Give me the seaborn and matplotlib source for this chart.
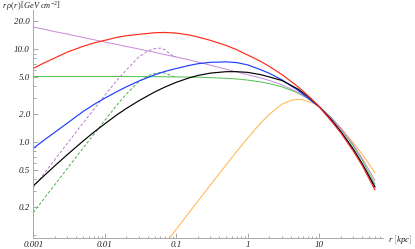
import matplotlib
matplotlib.use("Agg")
import matplotlib.pyplot as plt
from matplotlib.ticker import NullFormatter
import seaborn as sns

# radius grid (kpc) shared by the solid profiles
r = [0.001, 0.0015, 0.002, 0.003, 0.005, 0.007, 0.01, 0.015, 0.02, 0.03,
     0.05, 0.07, 0.1, 0.15, 0.2, 0.3, 0.5, 0.7, 1, 1.5,
     2, 3, 5, 7, 10, 15, 20, 30, 40, 60]

red = [6.25, 7.3, 8.08, 9.35, 10.8, 11.7, 12.5, 13.5, 14.0, 14.5,
       15.1, 15.2, 14.95, 14.3, 13.6, 12.5, 11.0, 9.9, 8.67, 7.45,
       6.55, 5.35, 3.98, 3.16, 2.41, 1.66, 1.26, 0.80, 0.56, 0.307]
blue = [0.86, 1.09, 1.28, 1.61, 2.15, 2.54, 2.98, 3.53, 3.95, 4.56,
        5.32, 5.8, 6.22, 6.7, 7.0, 7.25, 7.33, 7.2, 6.8, 6.05,
        5.52, 4.70, 3.64, 2.97, 2.41, 1.72, 1.31, 0.84, 0.58, 0.33]
black = [0.34, 0.455, 0.558, 0.738, 1.034, 1.28, 1.58, 1.99, 2.31, 2.80,
         3.48, 3.94, 4.42, 4.92, 5.23, 5.55, 5.75, 5.75, 5.65, 5.35,
         5.05, 4.62, 3.75, 3.10, 2.41, 1.71, 1.30, 0.84, 0.585, 0.33]
green = [5.1, 5.1, 5.1, 5.1, 5.1, 5.1, 5.1, 5.1, 5.09, 5.09,
         5.08, 5.07, 5.05, 5.03, 5.01, 4.96, 4.88, 4.8, 4.67, 4.47,
         4.28, 3.95, 3.40, 2.95, 2.41, 1.82, 1.40, 0.91, 0.64, 0.355]
purple = [17.4, 16.3, 15.5, 14.6, 13.4, 12.7, 12.0, 11.26, 10.75, 10.08,
          9.28, 8.76, 8.26, 7.72, 7.3, 6.75, 6.1, 5.72, 5.33, 4.93,
          4.63, 4.15, 3.45, 2.95, 2.41, 1.8, 1.40, 0.94, 0.67, 0.39]

# cored (dashed) versions
r_core = [0.001, 0.002, 0.005, 0.01, 0.015, 0.02, 0.03, 0.04, 0.05, 0.06,
          0.07, 0.08, 0.09, 0.1]
purple_core = [0.325, 0.65, 1.62, 3.2, 4.7, 6.0, 8.3, 9.6, 10.2, 10.3,
               9.9, 9.0, 8.55, 8.3]
green_core = [0.175, 0.35, 0.87, 1.72, 2.55, 3.3, 4.5, 5.2, 5.5, 5.62,
              5.55, 5.3, 5.12, 5.05]

r_orange = [0.08, 0.1, 0.15, 0.2, 0.3, 0.5, 0.7, 1, 1.5, 2,
            3, 4, 5, 6, 7, 8.5, 10, 15, 20, 30, 40, 60]
orange = [0.0928, 0.116, 0.174, 0.232, 0.347, 0.574, 0.797, 1.115, 1.60, 2.0,
          2.56, 2.83, 2.9, 2.85, 2.74, 2.6, 2.41, 1.8, 1.43, 0.98, 0.74, 0.47]

x_major = [0.001, 0.01, 0.1, 1, 10]
x_labels = ["0.001", "0.01", "0.1", "1", "10"]
y_major = [0.2, 0.5, 1, 2, 5, 10, 20]
y_labels = ["0.2", "0.5", "1.0", "2.0", "5.0", "10.0", "20.0"]

sns.set_style("ticks")
plt.rcParams["mathtext.fontset"] = "custom"
plt.rcParams["mathtext.it"] = "Liberation Serif:italic"
plt.rcParams["mathtext.rm"] = "Liberation Serif"
plt.rcParams["font.family"] = ["Liberation Serif", "DejaVu Serif"]

fig = plt.figure(figsize=(4.15, 2.49), dpi=100)
ax = fig.add_axes([0.0802, 0.0454, 0.8427, 0.9144])

curves = [
    (r_orange, orange, "#ffb347", 0.7, "-"),
    (r, green, "#4cc24c", 0.7, "-"),
    (r, purple, "#c68bd6", 0.7, "-"),
    (r_core, green_core, "#4caf4c", 0.7, (0, (3, 2))),
    (r_core, purple_core, "#b97cc9", 0.7, (0, (3, 2))),
    (r, blue, "#1f3dff", 0.85, "-"),
    (r, black, "#000000", 0.85, "-"),
    (r, red, "#ff2a1a", 0.85, "-"),
]
for xs, ys, col, lw, ls in curves:
    sns.lineplot(x=xs, y=ys, ax=ax, color=col, linewidth=lw, linestyle=ls)

ax.set_xscale("log")
ax.set_yscale("log")
ax.set_xlim(0.001, 77.8)
ax.set_ylim(0.094, 26.5)

x_minor = [m * 10.0 ** e for e in range(-3, 2) for m in range(2, 10)]
y_minor = [0.1, 0.3, 0.4, 0.6, 0.7, 0.8, 0.9, 3, 4, 6, 7, 8, 9]
ax.set_xticks(x_major)
ax.set_xticks([v for v in x_minor if v < 77.8], minor=True)
ax.set_yticks(y_major)
ax.set_yticks(y_minor, minor=True)
ax.xaxis.set_minor_formatter(NullFormatter())
ax.yaxis.set_minor_formatter(NullFormatter())
ax.set_xticklabels(x_labels, fontstyle="italic", fontsize=6.5)
ax.set_yticklabels(y_labels, fontstyle="italic", fontsize=6.5)
ax.tick_params(which="both", direction="in", color="#9a9a9a", width=0.6)
ax.tick_params(which="major", length=3.5, pad=2.5, labelcolor="#222222")
ax.tick_params(which="minor", length=1.8)

for side in ["top", "right"]:
    ax.spines[side].set_visible(False)
for side in ["left", "bottom"]:
    ax.spines[side].set_color("#a8a8a8")
    ax.spines[side].set_linewidth(0.7)

fig.text(0.005, 1 - 6 / 249, r"$r\;\rho(r)\,\left[GeV\;cm^{-2}\right]$",
         fontsize=6.0, va="center", ha="left", color="#222222")
fig.text(0.934, 1 - 239 / 249, r"$r\ \left[kpc\right]$",
         fontsize=6.5, va="center", ha="left", color="#222222")

fig.savefig("out.png", dpi=100)
